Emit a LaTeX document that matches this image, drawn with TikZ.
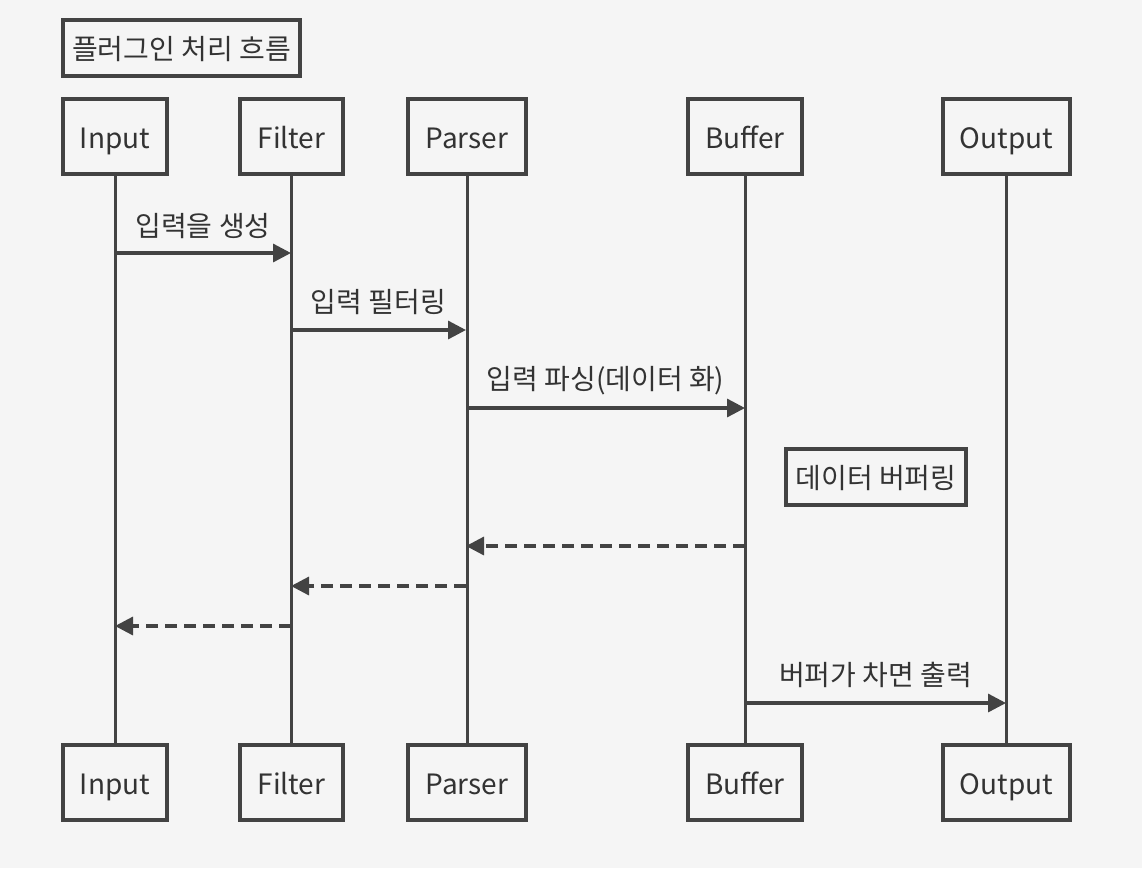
\documentclass[tikz,border=0pt]{standalone}
\usepackage{fontspec}
\setmainfont{Noto Sans CJK KR}
\usetikzlibrary{arrows.meta}
\definecolor{bg}{HTML}{F5F5F5}
\definecolor{ln}{HTML}{434343}
\definecolor{tx}{HTML}{333333}
\begin{document}
\begin{tikzpicture}[x=1pt,y=-1pt,
  box/.style={draw=ln,line width=4pt,rectangle,inner sep=0pt,text=tx,font=\fontsize{28}{32}\selectfont,text height=25.5pt,text depth=2.5pt},
  lifeline/.style={draw=ln,line width=3pt},
  msg/.style={draw=ln,line width=3.3pt,-{Triangle[length=18pt,width=18pt]}},
  ret/.style={msg,dash pattern=on 12pt off 7pt},
  lbl/.style={text=tx,font=\fontsize{28}{32}\selectfont,inner sep=0pt}]
\fill[bg] (0,0) rectangle (1142,868);
\useasboundingbox (0,0) rectangle (1142,868);
\node[box,minimum width=237pt,minimum height=56pt] (title) at (181.5,48) {플러그인 처리 흐름};
% top actors
\node[box,minimum width=104pt,minimum height=75pt] (inT) at (115,136.5) {Input};
\node[box,minimum width=103pt,minimum height=75pt] (fiT) at (291.5,136.5) {Filter};
\node[box,minimum width=118pt,minimum height=75pt] (paT) at (467,136.5) {Parser};
\node[box,minimum width=114pt,minimum height=75pt] (buT) at (745,136.5) {Buffer};
\node[box,minimum width=127pt,minimum height=75pt] (ouT) at (1006.5,136.5) {Output};
% bottom actors
\node[box,minimum width=104pt,minimum height=75pt] (inB) at (115,782.5) {Input};
\node[box,minimum width=103pt,minimum height=75pt] (fiB) at (291.5,782.5) {Filter};
\node[box,minimum width=118pt,minimum height=75pt] (paB) at (467,782.5) {Parser};
\node[box,minimum width=114pt,minimum height=75pt] (buB) at (745,782.5) {Buffer};
\node[box,minimum width=127pt,minimum height=75pt] (ouB) at (1006.5,782.5) {Output};
% lifelines
\draw[lifeline] (inT.south) -- (inB.north);
\draw[lifeline] (fiT.south) -- (fiB.north);
\draw[lifeline] (paT.south) -- (paB.north);
\draw[lifeline] (buT.south) -- (buB.north);
\draw[lifeline] (ouT.south) -- (ouB.north);
% message endpoints
\coordinate (m1a) at (115,253); \coordinate (m1b) at (291,253);
\coordinate (m2a) at (291,330); \coordinate (m2b) at (466,330);
\coordinate (m3a) at (466,408); \coordinate (m3b) at (745,408);
\coordinate (r1a) at (745,546); \coordinate (r1b) at (466,546);
\coordinate (r2a) at (466,586); \coordinate (r2b) at (291,586);
\coordinate (r3a) at (291,626); \coordinate (r3b) at (115,626);
\coordinate (m4a) at (745,703); \coordinate (m4b) at (1006,703);
\draw[msg] (m1a) -- (m1b);
\draw[msg] (m2a) -- (m2b);
\draw[msg] (m3a) -- (m3b);
\draw[ret] (r1a) -- (r1b);
\draw[ret] (r2a) -- (r2b);
\draw[ret] (r3a) -- (r3b);
\draw[msg] (m4a) -- (m4b);
\node[lbl] (l1) at (203,226) {입력을 생성};
\node[lbl] (l2) at (378.5,302) {입력 필터링};
\node[lbl] (l3) at (605.5,381) {입력 파싱(데이터 화)};
\node[lbl] (l4) at (875.5,675) {버퍼가 차면 출력};
\node[box,minimum width=180pt,minimum height=56pt] (note) at (876,477) {데이터 버퍼링};
\end{tikzpicture}
\end{document}
